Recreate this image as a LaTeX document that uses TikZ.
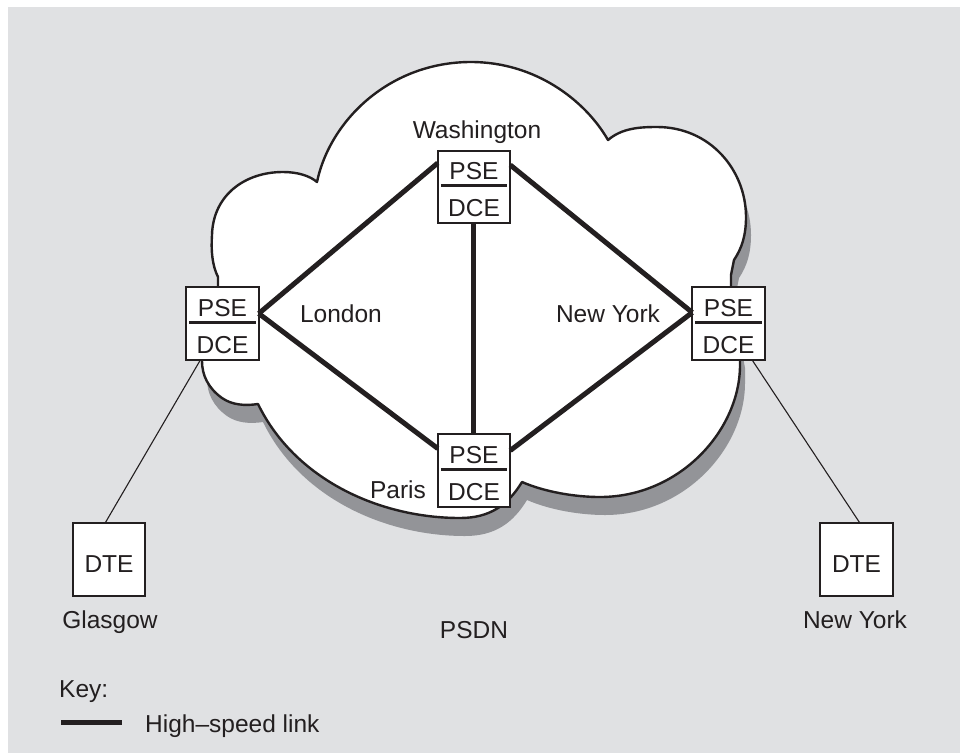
\documentclass[tikz,border=0pt]{standalone}
\usepackage{fontspec}
\setmainfont{Liberation Sans}
\usetikzlibrary{calc}
\definecolor{ink}{RGB}{35,31,32}
\definecolor{panel}{RGB}{224,225,227}
\definecolor{shadowgray}{RGB}{147,148,152}
\def\cloudpath{(218,300) -- (218,277) .. controls (212,265) and (211,250) .. (212,235) .. controls (213,195) and (245,172) .. (283,172) .. controls (298,172) and (310,176) .. (317,182) .. controls (330,120) and (390,62) .. (471,62) .. controls (535,62) and (585,100) .. (608,140) .. controls (622,128) and (640,127) .. (657,127) .. controls (710,127) and (746,170) .. (746,217) .. controls (746,235) and (742,248) .. (734,260) -- (731,275) -- (731,300) -- (740,350) -- (740,365) .. controls (740,430) and (680,497) .. (600,497) .. controls (575,497) and (545,492) .. (522,482) .. controls (508,505) and (490,518) .. (460,518) .. controls (380,518) and (295,480) .. (258,404) .. controls (245,406) and (232,405) .. (222,398) .. controls (208,388) and (202,375) .. (202,361) -- (202,345) -- cycle}
\begin{document}
\begin{tikzpicture}[x=1pt,y=-1pt,
  txt/.style={font=\fontsize{24.5}{29}\selectfont, text=ink, inner sep=0pt, anchor=base},
  box/.style={draw=ink, fill=white, line width=2.2pt, minimum width=72.5pt, minimum height=72.5pt, inner sep=0pt, outer sep=0pt},
  link/.style={draw=ink, line width=5pt},
  thinlink/.style={draw=ink, line width=1.1pt},
  divider/.style={draw=ink, line width=2.6pt},
  cloudline/.style={draw=ink, fill=white, line width=2.4pt, line join=round}]
\useasboundingbox (0,0) rectangle (960,753);
\fill[panel] (8,7) rectangle (960,753);
% shadow and cloud
\fill[shadowgray, shift={(5,18)}] \cloudpath;
\path[cloudline] \cloudpath;
% boxes
\node[box] (gl) at (222.5,323.5) {};
\node[box] (wa) at (474,187) {};
\node[box] (ny) at (728.5,323.5) {};
\node[box] (pa) at (474,470.5) {};
\node[box] (dg) at (109,559.5) {};
\node[box] (dn) at (856.5,559.5) {};
% dividers
\foreach \b in {gl,wa,ny,pa}{
  \draw[divider] ($(\b.north west)+(3,35)$) -- ($(\b.north east)+(-3,35)$);
  \node[txt] (\b-p) at ($(\b.north)+(0,29)$) {PSE};
  \node[txt] (\b-d) at ($(\b.north)+(0,66)$) {DCE};
}
\node[txt] (dg-t) at ($(dg.north)+(0,49)$) {DTE};
\node[txt] (dn-t) at ($(dn.north)+(0,49)$) {DTE};
% high-speed links
\draw[link] ([yshift=10pt]gl.east) -- ([yshift=24pt]wa.west);
\draw[link] ([yshift=10pt]gl.east) -- ([yshift=22pt]pa.west);
\draw[link] ([yshift=22pt]wa.east) -- ([yshift=11pt]ny.west);
\draw[link] ([yshift=11pt]ny.west) -- ([yshift=20pt]pa.east);
\draw[link] ([xshift=-1pt]wa.south) -- ([xshift=-1pt]pa.north);
% access links
\draw[thinlink] ([xshift=-22pt]gl.south) -- ([xshift=-4pt]dg.north);
\draw[thinlink] ([xshift=23.5pt]ny.south) -- ([xshift=3.5pt]dn.north);
% labels
\node[txt] (lwash) at (477,138) {Washington};
\node[txt] (llon) at (341,322) {London};
\node[txt] (lnyi) at (608,322) {New York};
\node[txt] (lpar) at (398,498) {Paris};
\node[txt] (lgla) at (110,628) {Glasgow};
\node[txt] (lnyo) at (855,628) {New York};
\node[txt] (lpsdn) at (474,638) {PSDN};
\node[txt, anchor=base west] (lkey) at (59,697) {Key:};
\coordinate (k1) at (61,722);
\coordinate (k2) at (122,722);
\draw[link] (k1) -- (k2);
\node[txt, anchor=base west] (lhs) at (145,732) {High–speed link};
\end{tikzpicture}
\end{document}
